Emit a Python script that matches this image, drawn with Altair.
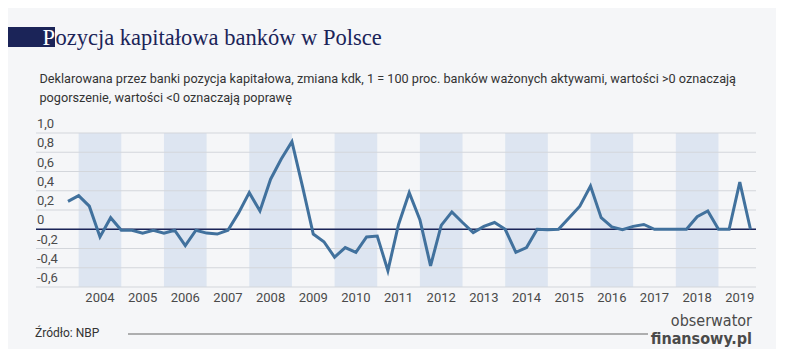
import altair as alt
import pandas as pd

# ---- data -------------------------------------------------------------
quarters = pd.period_range("2003Q4", "2019Q4", freq="Q")
values = [
    0.29,                                   # 2003 Q4
    0.35, 0.24, -0.08, 0.12,                # 2004
    -0.01, -0.01, -0.04, -0.01,             # 2005
    -0.04, -0.01, -0.17, -0.01,             # 2006
    -0.04, -0.05, -0.01, 0.17,              # 2007
    0.38, 0.19, 0.52, 0.73,                 # 2008
    0.91, 0.44, -0.05, -0.13,               # 2009
    -0.29, -0.19, -0.24, -0.08,             # 2010
    -0.07, -0.43, 0.05, 0.38,               # 2011
    0.10, -0.38, 0.04, 0.18,                # 2012
    0.07, -0.035, 0.03, 0.07,               # 2013
    0.0, -0.24, -0.19, 0.0,                 # 2014
    -0.005, 0.0, 0.12, 0.24,                # 2015
    0.45, 0.12, 0.025, -0.005,              # 2016
    0.03, 0.05, 0.0, 0.0,                   # 2017
    0.0, 0.0, 0.13, 0.19,                   # 2018
    0.0, 0.0, 0.49, 0.0,                    # 2019
]
years = list(range(2004, 2020))
shaded_years = [2004, 2006, 2008, 2010, 2012, 2014, 2016, 2018]
y_ticks = [-0.6, -0.4, -0.2, 0.0, 0.2, 0.4, 0.6, 0.8, 1.0]
y_labels = ["-0,6", "-0,4", "-0,2", "0", "0,2", "0,4", "0,6", "0,8", "1,0"]

title_first = "P"
title_rest = "ozycja kapitałowa banków w Polsce"
subtitle1 = ("Deklarowana przez banki pozycja kapitałowa, zmiana kdk, 1 = 100 proc. "
             "banków ważonych aktywami, wartości >0 oznaczają")
subtitle2 = "pogorszenie, wartości <0 oznaczają poprawę"
source = "Źródło: NBP"

# ---- frames -----------------------------------------------------------
df = pd.DataFrame({
    "t": [p.year + (p.quarter - 1) / 4 for p in quarters],
    "v": values,
})
bands = pd.DataFrame({"start": shaded_years})
bands["end"] = bands["start"] + 1
xlab = pd.DataFrame({"year": years})
xlab["mid"] = xlab["year"] + 0.5
xlab["label"] = xlab["year"].astype(str)
ylab = pd.DataFrame({"v": y_ticks, "label": y_labels})
one = pd.DataFrame({"a": [0]})

W, H = 720, 154
xs = alt.Scale(domain=[2003, 2019.88], nice=False, zero=False)
ys = alt.Scale(domain=[-0.6, 1.0], nice=False, zero=False)

FONT = "Roboto"
NAVY = "#1b2458"

band_layer = alt.Chart(bands).mark_rect(color="#dde5f1").encode(
    x=alt.X("start:Q", scale=xs, axis=None),
    x2="end:Q",
    y=alt.value(0),
    y2=alt.value(H),
)

grid_layer = alt.Chart(ylab).mark_rule(color="#d3d6db", strokeWidth=1).encode(
    y=alt.Y("v:Q", scale=ys, axis=None),
    x=alt.value(0),
    x2=alt.value(W),
)

zero_layer = alt.Chart(one).mark_rule(color=NAVY, strokeWidth=1.6).encode(
    y=alt.Y("a:Q", scale=ys, axis=None),
    x=alt.value(0),
    x2=alt.value(W),
)

line_layer = alt.Chart(df).mark_line(
    color="#41719d", strokeWidth=3, strokeJoin="miter"
).encode(
    x=alt.X("t:Q", scale=xs, axis=None),
    y=alt.Y("v:Q", scale=ys, axis=None),
)

ylab_layer = alt.Chart(ylab).mark_text(
    align="left", baseline="middle", dy=-9, font=FONT, fontSize=13, color="#4a4a4a"
).encode(
    y=alt.Y("v:Q", scale=ys, axis=None),
    x=alt.value(1),
    text="label:N",
)

xlab_layer = alt.Chart(xlab).mark_text(
    align="center", baseline="middle", font=FONT, fontSize=13, color="#4a4a4a"
).encode(
    x=alt.X("mid:Q", scale=xs, axis=None),
    y=alt.value(H + 11),
    text="label:N",
)

title_box = alt.Chart(one).mark_rule(color=NAVY, strokeWidth=20, strokeCap="butt").encode(
    x=alt.value(-28), x2=alt.value(19), y=alt.value(-96)
)
title_p = alt.Chart(one).mark_text(
    text=title_first, align="left", baseline="alphabetic",
    font="Liberation Serif", fontSize=22.5, color="white"
).encode(x=alt.value(6.5), y=alt.value(-88))
title_text = alt.Chart(one).mark_text(
    text=title_rest, align="left", baseline="alphabetic",
    font="Liberation Serif", fontSize=22.5, color=NAVY
).encode(x=alt.value(19.5), y=alt.value(-88))

sub1 = alt.Chart(one).mark_text(
    text=subtitle1, align="left", baseline="middle", font=FONT, fontSize=12.7, color="#333333"
).encode(x=alt.value(3.5), y=alt.value(-54.5))
sub2 = alt.Chart(one).mark_text(
    text=subtitle2, align="left", baseline="middle", font=FONT, fontSize=12.7, color="#333333"
).encode(x=alt.value(3.5), y=alt.value(-35.5))

src = alt.Chart(one).mark_text(
    text=source, align="left", baseline="middle", font=FONT, fontSize=12, color="#333333"
).encode(x=alt.value(-1), y=alt.value(200))
src_rule = alt.Chart(one).mark_rule(color="#666666", strokeWidth=1).encode(
    x=alt.value(92), x2=alt.value(612), y=alt.value(201)
)
logo1 = alt.Chart(one).mark_text(
    text="obserwator", align="right", baseline="middle",
    font="DejaVu Sans Condensed, Roboto", fontSize=16, color="#4a4a4a"
).encode(x=alt.value(716), y=alt.value(188))
logo2 = alt.Chart(one).mark_text(
    text="finansowy.pl", align="right", baseline="middle",
    font="DejaVu Sans Condensed, Roboto", fontSize=16, fontWeight="bold", color="#4a4a4a"
).encode(x=alt.value(716), y=alt.value(206))

chart = alt.layer(
    band_layer, grid_layer, zero_layer, line_layer, ylab_layer, xlab_layer,
    title_box, title_p, title_text, sub1, sub2, src, src_rule, logo1, logo2,
).properties(
    width=W, height=H,
    autosize=alt.AutoSizeParams(type="none"),
    padding={"left": 28, "top": 125, "right": 20, "bottom": 62},
    background="#f5f6f8",
).configure_view(stroke=None)

chart.save("out.html", embed_options={"renderer": "svg", "actions": False})
